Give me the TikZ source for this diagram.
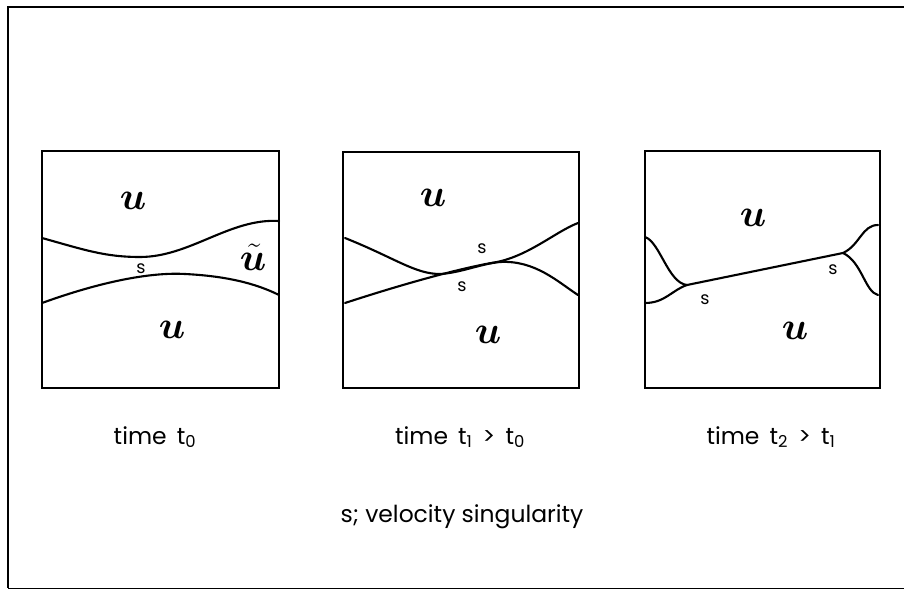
\documentclass[tikz,border=0pt]{standalone}
\usepackage{fontspec}
\setmainfont{Poppins}
\usepackage{amsmath,bm,graphicx}
\usetikzlibrary{positioning}

\newcommand{\regu}[1]{\scalebox{1.6}{\huge$\bm{#1}$}}

\tikzset{
  panel/.style={line width=2.2pt},
  front/.style={line width=1.8pt, line cap=round},
  region/.style={inner sep=0pt},
  sing/.style={font=\fontsize{15}{15}\selectfont, inner sep=1pt},
  caption/.style={font=\fontsize{20}{22}\selectfont, inner sep=1pt}
}

\begin{document}
\begin{tikzpicture}[x=0.03cm,y=-0.03cm]
\useasboundingbox (0,0) rectangle (904,596);
% outer frame (cut by the right edge)
\draw[line width=1.6pt] (904,7) -- (8,7) -- (8,588);
\draw[line width=0.8pt] (8,588) -- (904,588);

% panel t0
\draw[panel] (42,151) rectangle (279,388);
\draw[front] (42,238) .. controls (85,250) and (105,257) .. (140,257) .. controls (190,257) and (230,218) .. (279,221);
\draw[front] (42,303) .. controls (100,282) and (150,272) .. (185,274) .. controls (225,276) and (255,283) .. (279,295);
\node[region] (ua) at (133,201) {\regu{u}};
\node[region] (ub) at (172,330) {\regu{u}};
\node[region] (ut) at (253,257) {\regu{\tilde{u}}};
\node[sing] (sa) at (141,269) {s};

% panel t1
\draw[panel] (343,152) rectangle (579,388);
\draw[front] (345,238) .. controls (395,258) and (415,274) .. (440,274) .. controls (460,273) and (480,264) .. (500,262) .. controls (535,260) and (558,282) .. (578,295);
\draw[front] (345,303) .. controls (400,285) and (460,268) .. (497,262) .. controls (530,255) and (555,232) .. (578,223);
\node[region] (uc) at (433,198) {\regu{u}};
\node[region] (ud) at (488,335) {\regu{u}};
\node[sing] (sb) at (482,249) {s};
\node[sing] (sc) at (462,287) {s};

% panel t2
\draw[panel] (645,151) rectangle (880,388);
\coordinate (j1) at (687,285);
\coordinate (j2) at (843,253);
\draw[front] (645,237) .. controls (660,242) and (668,283) .. (j1);
\draw[front] (645,303) .. controls (665,303) and (672,290) .. (j1);
\draw[front] (j1) -- (j2);
\draw[front] (j2) .. controls (860,245) and (862,225) .. (878,225);
\draw[front] (j2) .. controls (862,262) and (865,292) .. (878,295);
\node[region] (ue) at (753,218) {\regu{u}};
\node[region] (uf) at (795,331) {\regu{u}};
\node[sing] (sd) at (705,300) {s};
\node[sing] (se) at (833,270) {s};

% captions
\node[caption] (ca) at (155,437) {time\, t\textsubscript{0}};
\node[caption] (cb) at (460,437) {time\, t\textsubscript{1}\, >\, t\textsubscript{0}};
\node[caption] (cc) at (771,437) {time\, t\textsubscript{2}\, >\, t\textsubscript{1}};
\node[caption] (key) at (462,517) {s; velocity singularity};
\end{tikzpicture}
\end{document}
